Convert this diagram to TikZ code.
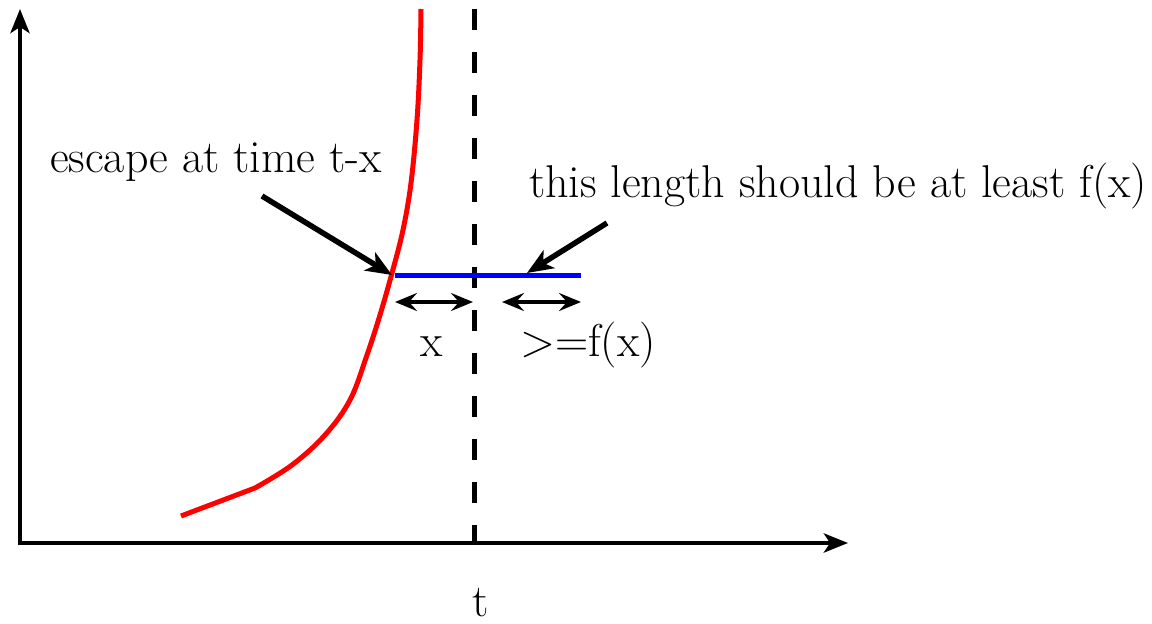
\documentclass[tikz,border=0pt]{standalone}
\usetikzlibrary{arrows.meta}

\begin{document}
\begin{tikzpicture}[
    x=1pt,  % one unit is one pixel of the reference
    y=-1pt, % y runs downwards, as in the reference
    every node/.style={font=\fontsize{46}{55}\selectfont, anchor=base, inner sep=0pt},
    axis/.style={line width=4.5pt, -{Stealth[length=24pt, width=19pt, inset=6pt]}},
    pointer/.style={line width=5.5pt, -{Stealth[length=26pt, width=21pt, inset=7pt]}},
    span/.style={line width=3.5pt, {Stealth[length=22pt, width=18pt, inset=8pt]}-{Stealth[length=22pt, width=18pt, inset=8pt]}},
    escape curve/.style={red, line width=5pt},
    gap line/.style={blue, line width=5pt}
    ]

\useasboundingbox (0,0) rectangle (1152,624);

% --- Axes ---
\coordinate (O) at (20,543);
\coordinate (Ytop) at (20,9);
\coordinate (Xend) at (848,543);
\draw[axis] (O) -- (Ytop);
\draw[axis] (18,543) -- (Xend);

% --- Time t ---
\coordinate (Ttop) at (474,9);
\coordinate (Tbot) at (474,543);
\draw[line width=5pt, dash pattern=on 21pt off 22pt] (Ttop) -- (Tbot);
\node (t) at (481,616) {t};

% --- Escape curve ---
\draw[escape curve] (181,516) -- (255,488)
    plot[smooth, tension=0.6] coordinates {(255,488) (292,465) (325,435) (350,400)
        (367,355) (380,315) (392,273) (403,230) (411,183) (417,120) (420,60) (421,9)};

% --- Length f(x) ---
\coordinate (E) at (392,275);
\coordinate (F) at (581,275);
\draw[gap line] (395,275) -- (F);

% --- Spans below ---
\coordinate (Xa) at (395,302);
\coordinate (Xb) at (473,302);
\coordinate (Fa) at (502,302);
\coordinate (Fb) at (581,302);
\draw[span] (Xa) -- (Xb);
\draw[span] (Fa) -- (Fb);
\node (xlabel) at (432,356) {x};
\node (flabel) at (588,356) {>=f(x)};

% --- Call-outs ---
\node (escape) at (216,172) {escape at time t-x};
\node (length) at (838,197) {this length should be at least f(x)};
\coordinate (Ea) at (262,196);
\coordinate (La) at (607,223);
\coordinate (Lb) at (527,273);
\draw[pointer] (Ea) -- (E);
\draw[pointer] (La) -- (Lb);

\end{tikzpicture}
\end{document}
